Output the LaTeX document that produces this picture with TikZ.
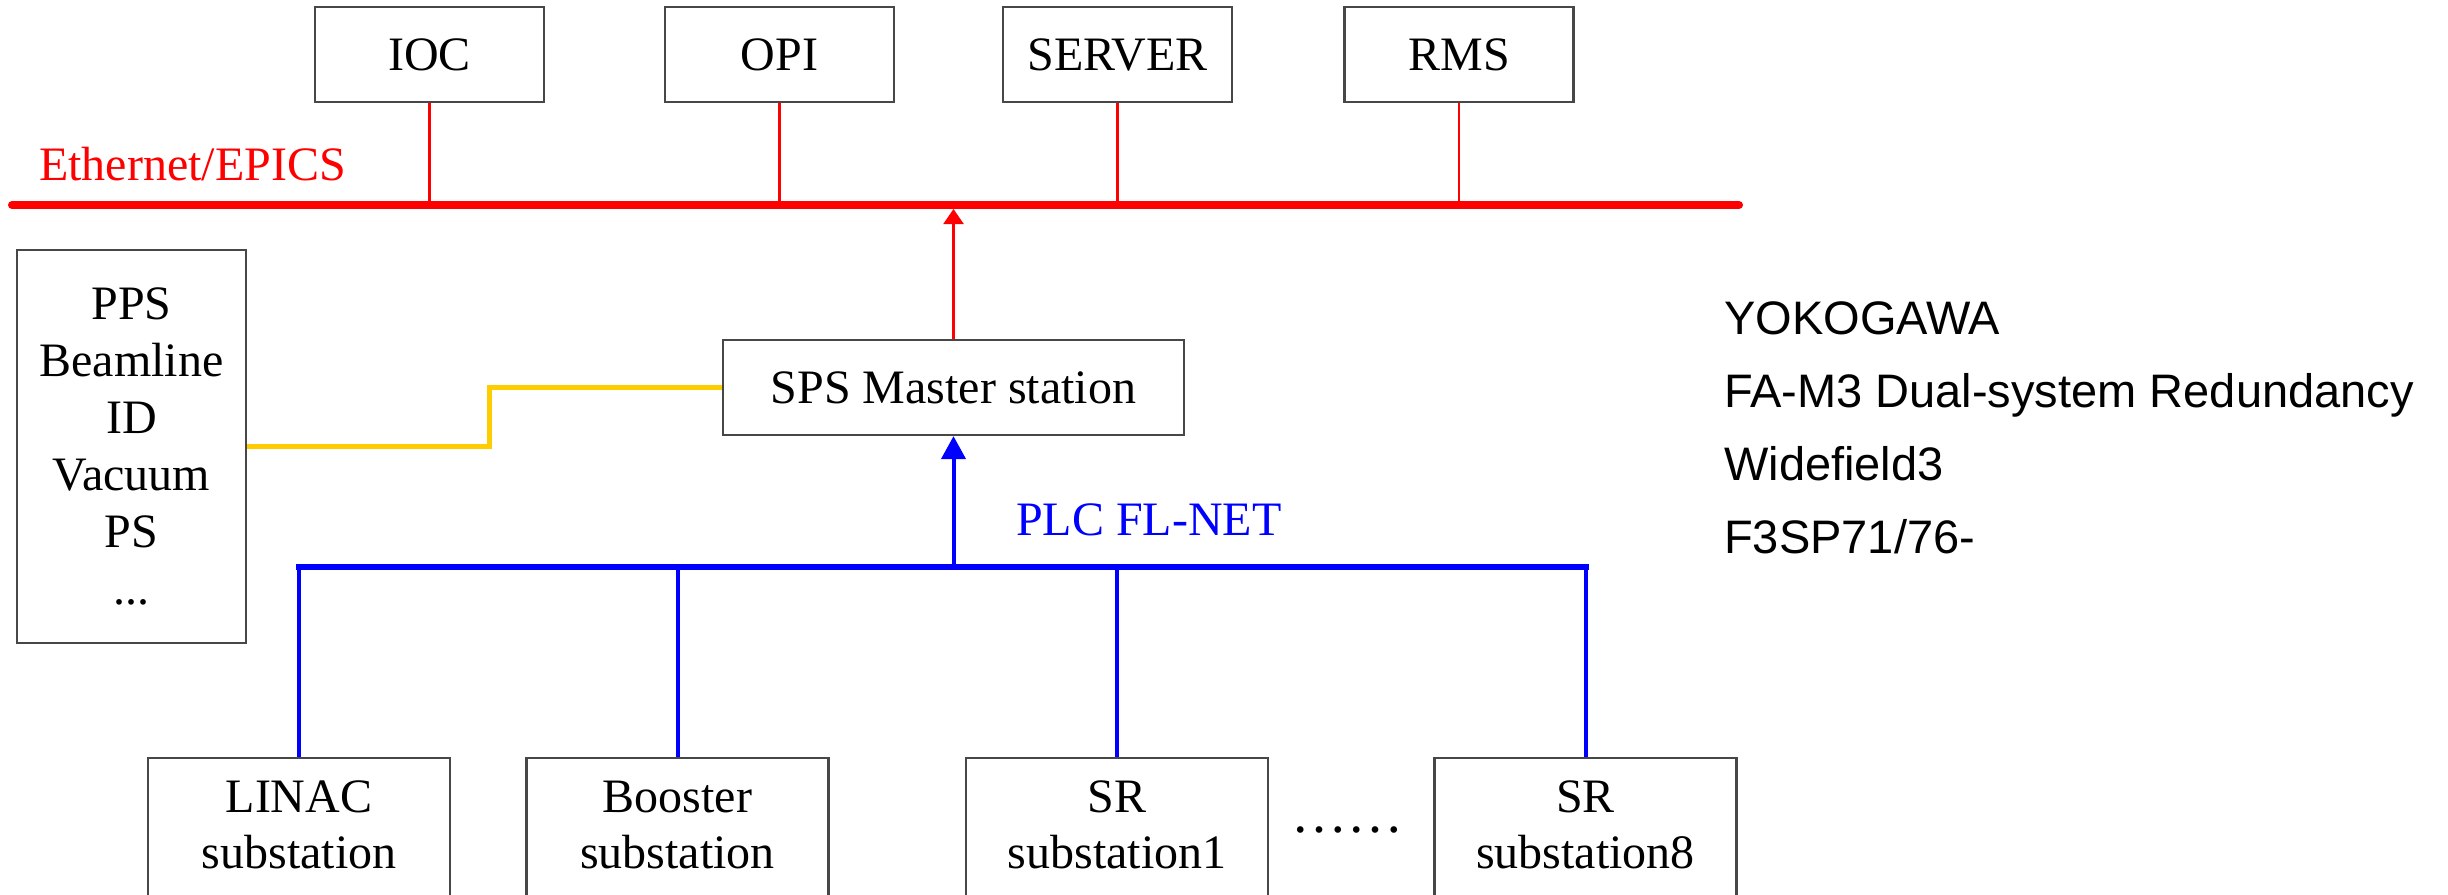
\documentclass[tikz,border=0pt]{standalone}
\usepackage{fontspec}
\setmainfont{Liberation Serif}
\newfontfamily\notefont{Liberation Sans}
\usetikzlibrary{arrows.meta}
\definecolor{serialgold}{RGB}{255,204,0}

% two-line label for a substation box, pinned to the top of the box
\newcommand\stationtext[1]{\parbox[t][190pt][t]{290pt}{\centering\fontsize{48}{56}\selectfont #1}}

\begin{document}
\begin{tikzpicture}[x=1pt, y=-1pt,
  box/.style={draw=black!72, line width=2.2pt, fill=white, inner sep=0pt,
    align=center, font={\fontsize{48}{57}\selectfont}},
  topbox/.style={box, minimum width=229pt, minimum height=95pt},
  subbox/.style={draw=black!72, line width=2.2pt, fill=white, inner xsep=0pt,
    inner ysep=23pt, anchor=north, minimum width=302pt},
  ethbus/.style={draw=red, line width=8pt, line cap=round},
  ethdrop/.style={draw=red, line width=2.2pt},
  plcbus/.style={draw=blue, line width=6pt, line cap=rect},
  plcdrop/.style={draw=blue, line width=4pt},
  serial/.style={draw=serialgold, line width=5pt},
  netlabel/.style={anchor=base west, inner sep=0pt, font={\fontsize{48}{57}\selectfont}}
]
\useasboundingbox (0,0) rectangle (2448,894);
\clip (0,0) rectangle (2448,894);
\fill[white] (0,0) rectangle (2448,894);

% Ethernet/EPICS level
\coordinate (ethL) at (12,205);
\coordinate (ethR) at (1739,205);
\node[topbox] (ioc)    at (429.5,54.5)  {IOC};
\node[topbox] (opi)    at (779.5,54.5)  {OPI};
\node[topbox] (server) at (1117.5,54.5) {SERVER};
\node[topbox] (rms)    at (1459,54.5)   {RMS};
\node[netlabel, text=red] (ethlabel) at (39,180) {Ethernet/EPICS};

\draw[ethbus] (ethL) -- (ethR);
\foreach \n in {ioc,opi,server,rms}
  \draw[ethdrop] (\n.south) -- (\n.south |- ethL);

% master station and attached systems
\node[box, minimum width=461pt, minimum height=95pt] (sps) at (953.5,387.5) {SPS Master station};
\node[box, minimum width=229pt, minimum height=393pt] (others) at (131.5,446.5)
  {PPS\\Beamline\\ID\\Vacuum\\PS\\...};
\coordinate (bend) at (489,0);

\draw[ethdrop, -{Triangle[length=15pt, width=20pt]}, shorten >=4pt] (sps.north) -- (sps.north |- ethL);
\draw[serial] (others.east) -| (bend |- sps.west) -- (sps.west);

% PLC FL-NET level
\coordinate (plcy) at (0,567);
\node[subbox] (linac)   at (299,757)    {\stationtext{LINAC\\substation}};
\node[subbox] (booster) at (677.5,757)  {\stationtext{Booster\\substation}};
\node[subbox] (sr1)     at (1117,757)   {\stationtext{SR\\substation1}};
\node[subbox] (sr8)     at (1585.5,757) {\stationtext{SR\\substation8}};
\node[anchor=base, inner sep=0pt, font={\fontsize{56}{60}\selectfont}] (more) at (1347,832) {……};
\node[netlabel, text=blue] (plclabel) at (1016,535) {PLC FL-NET};

\draw[plcbus] (linac.north |- plcy) -- (sr8.north |- plcy);
\foreach \n in {linac,booster,sr1,sr8}
  \draw[plcdrop] (\n.north |- plcy) -- (\n.north);
\draw[plcdrop, -{Triangle[length=23pt, width=24pt]}] (sps.south |- plcy) -- (sps.south);

% controller description
\node[anchor=north west, align=left, inner sep=0pt,
  font={\notefont\fontsize{47}{73.3}\selectfont}] (plcinfo) at (1724,301)
  {YOKOGAWA\\FA-M3 Dual-system Redundancy\\Widefield3\\F3SP71/76-};
\end{tikzpicture}
\end{document}
